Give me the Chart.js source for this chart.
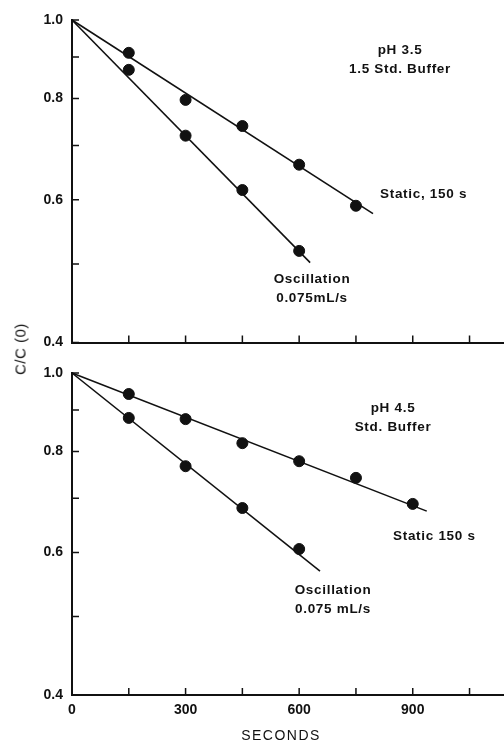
<!DOCTYPE html>
<html>
<head>
<meta charset="utf-8">
<script src="https://cdn.jsdelivr.net/npm/chart.js@4"></script>
<style>
  body { margin: 0; background: #fff; }
  #wrap { position: relative; width: 504px; height: 744px; overflow: hidden; font-family: "Liberation Sans", Arial, sans-serif; }
  canvas { position: absolute; left: 0; }
  .note { position: absolute; font-size: 13.5px; font-weight: bold; line-height: 19px; letter-spacing: 0.7px; color: #111; white-space: nowrap; }
  .center { text-align: center; transform: translateX(-50%); }
</style>
</head>
<body>
<div id="wrap">
  <canvas id="top-chart" width="512" height="360" style="top:0"></canvas>
  <canvas id="bottom-chart" width="512" height="394" style="top:350px"></canvas>

  <div class="note center" style="left:400px; top:40px">pH 3.5<br>1.5 Std. Buffer</div>
  <div class="note" style="left:380px; top:184px">Static, 150 s</div>
  <div class="note center" style="left:312px; top:269px">Oscillation<br>0.075mL/s</div>

  <div class="note center" style="left:393px; top:398px">pH 4.5<br>Std. Buffer</div>
  <div class="note" style="left:393px; top:526px">Static 150 s</div>
  <div class="note center" style="left:333px; top:580px">Oscillation<br>0.075 mL/s</div>

  <div class="note" style="left:20px; top:349px; font-weight:normal; font-size:15px; letter-spacing:0.5px; transform: translate(-50%,-50%) rotate(-90deg);">C/C (0)</div>
  <div class="note center" style="left:281px; top:726px; font-weight:normal; font-size:14px; letter-spacing:1.5px;">SECONDS</div>
</div>

<script>
// time points (seconds)
const times = [150, 300, 450, 600, 750, 900];
const xTicks = [0, 150, 300, 450, 600, 750, 900, 1050];
const yTicks = [0.4, 0.5, 0.6, 0.7, 0.8, 0.9, 1.0];

// pH 3.5, 1.5 Std. Buffer
const staticTop = [0.911, 0.797, 0.740, 0.663, 0.590];
const oscTop = [0.868, 0.720, 0.617, 0.519];
const staticTopFit = [[0, 1.0], [795, 0.577]];
const oscTopFit = [[0, 1.0], [629, 0.502]];

// pH 4.5, Std. Buffer
const staticBottom = [0.942, 0.877, 0.819, 0.778, 0.742, 0.689];
const oscBottom = [0.880, 0.767, 0.681, 0.606];
const staticBottomFit = [[0, 1.0], [937, 0.675]];
const oscBottomFit = [[0, 1.0], [655, 0.569]];

function toPoints(values) {
    return values.map((v, i) => ({ x: times[i], y: v }));
}
function fitPoints(pairs) {
    return pairs.map(p => ({ x: p[0], y: p[1] }));
}

// draws short tick marks pointing into the plot
const inwardTicks = {
    id: 'inwardTicks',
    afterDraw(chart) {
        const ctx = chart.ctx;
        const xs = chart.scales.x, ys = chart.scales.y;
        const area = chart.chartArea;
        ctx.save();
        ctx.strokeStyle = '#111';
        ctx.lineWidth = 1.5;
        ctx.beginPath();
        yTicks.forEach(v => {
            const py = ys.getPixelForValue(v);
            ctx.moveTo(area.left, py);
            ctx.lineTo(area.left + 7, py);
        });
        xTicks.forEach(v => {
            if (v === 0) return;
            const px = xs.getPixelForValue(v);
            ctx.moveTo(px, area.bottom);
            ctx.lineTo(px, area.bottom - 7);
        });
        ctx.stroke();
        ctx.restore();
    }
};

function makeChart(id, staticData, oscData, staticFit, oscFit, topPad, xAxisHeight, showXLabels) {
    const fitStyle = { showLine: true, pointRadius: 0, borderColor: '#111', borderWidth: 1.6, clip: false };
    const ptStyle = { showLine: false, pointRadius: 5.5, pointBackgroundColor: '#111', pointBorderColor: '#111', clip: false };
    return new Chart(document.getElementById(id), {
        type: 'scatter',
        data: {
            datasets: [
                Object.assign({ label: 'Static fit', data: fitPoints(staticFit) }, fitStyle),
                Object.assign({ label: 'Oscillation fit', data: fitPoints(oscFit) }, fitStyle),
                Object.assign({ label: 'Static', data: toPoints(staticData) }, ptStyle),
                Object.assign({ label: 'Oscillation', data: toPoints(oscData) }, ptStyle)
            ]
        },
        options: {
            responsive: false,
            animation: false,
            devicePixelRatio: 1,
            layout: { padding: { top: topPad, right: 0, left: 0, bottom: 0 } },
            plugins: { legend: { display: false }, tooltip: { enabled: false } },
            scales: {
                x: {
                    type: 'linear',
                    min: 0,
                    max: 1145,
                    afterBuildTicks: s => { s.ticks = xTicks.map(v => ({ value: v })); },
                    afterFit: s => { s.height = xAxisHeight; },
                    grid: { drawOnChartArea: false, drawTicks: false },
                    border: { display: true, color: '#111', width: 2 },
                    ticks: {
                        display: showXLabels,
                        autoSkip: false,
                        maxRotation: 0,
                        padding: 7,
                        color: '#111',
                        font: { family: 'Liberation Sans', size: 14, weight: 'bold' },
                        callback: v => (v % 300 === 0 ? String(v) : '')
                    }
                },
                y: {
                    type: 'logarithmic',
                    min: 0.4,
                    max: 1.0,
                    afterBuildTicks: s => { s.ticks = yTicks.map(v => ({ value: v })); },
                    afterFit: s => { s.width = 72; },
                    grid: { drawOnChartArea: false, drawTicks: false },
                    border: { display: true, color: '#111', width: 2 },
                    ticks: {
                        autoSkip: false,
                        padding: 9,
                        color: '#111',
                        font: { family: 'Liberation Sans', size: 14, weight: 'bold' },
                        callback: v => {
                            const r = Math.round(v * 10);
                            return r % 2 === 0 ? (r / 10).toFixed(1) : '';
                        }
                    }
                }
            }
        },
        plugins: [inwardTicks]
    });
}

makeChart('top-chart', staticTop, oscTop, staticTopFit, oscTopFit, 20, 17, false);
makeChart('bottom-chart', staticBottom, oscBottom, staticBottomFit, oscBottomFit, 23, 49, true);
</script>
</body>
</html>
